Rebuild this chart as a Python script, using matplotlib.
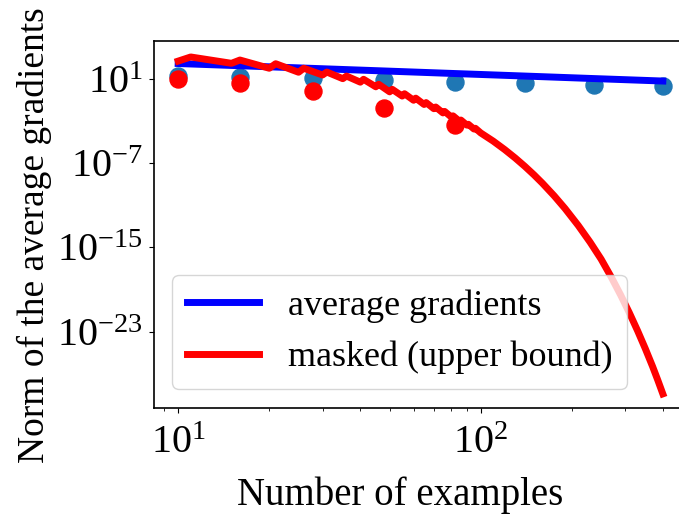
import numpy as np
import matplotlib
matplotlib.use('Agg')
import matplotlib.pyplot as plt

plt.rcParams['font.family'] = ['Liberation Serif', 'DejaVu Serif']
plt.rcParams['mathtext.fontset'] = 'stix'

# x positions of the measured points
n_points = [10, 16, 28, 48, 82, 140, 236, 400]
avg_grad_pts = [19, 14.5, 11.7, 7.9, 5.5, 3.9, 2.7, 2.2]
masked_pts = [9.3, 4.5, 0.78, 0.016, 4.3e-4]

# average gradients curve
avg_grad_line = [295, 181, 101, 57.8, 33, 19, 11, 6.4]

# masked upper bound (log10 values)
bound_n = [10, 11, 15, 16, 20, 21, 25, 26, 30, 31, 35, 36, 40, 41, 45, 46,
           50, 51, 55, 56, 60, 61, 65, 66, 70, 71, 75, 76, 80, 81, 85, 86,
           90, 91, 95, 96, 100, 110, 120, 130, 140, 150, 160, 175, 190, 210,
           230, 250, 270, 290, 310, 330, 350, 370, 385, 400]
bound_log = [2.70, 3.09, 2.49, 2.80, 2.02, 2.45, 1.64, 2.02, 1.38, 1.66,
             1.03, 1.28, 0.70, 0.97, 0.26, 0.50, -0.22, 0.02, -0.62, -0.40,
             -1.02, -0.82, -1.42, -1.24, -1.82, -1.66, -2.22, -2.08, -2.62,
             -2.50, -3.00, -2.90, -3.38, -3.30, -3.75, -3.68, -4.12, -4.9,
             -5.7, -6.5, -7.3, -8.1, -8.9, -10.1, -11.3, -12.9, -14.5, -16.1,
             -17.8, -19.5, -21.2, -22.9, -24.6, -26.3, -27.6, -28.9]

fig = plt.figure(figsize=(6.79, 5.2), dpi=100)
ax = fig.add_axes([0.2268, 0.2154, 0.785, 0.7058])

ax.scatter(n_points, avg_grad_pts, s=150, color='#1f77b4', zorder=2)
ax.scatter(n_points[:5], masked_pts, s=150, color='red', zorder=3)
ax.plot(n_points, avg_grad_line, color='blue', lw=5, label='average gradients', zorder=4)
ax.plot(bound_n, 10.0 ** np.array(bound_log), color='red', lw=5,
        label='masked (upper bound)', zorder=5)

ax.set_xscale('log')
ax.set_yscale('log')
ax.set_xlim(10 ** 0.92, 10 ** 2.682)
ax.set_ylim(10 ** -30.24, 10 ** 4.61)
ax.set_yticks([1e1, 1e-7, 1e-15, 1e-23])
ax.yaxis.set_minor_locator(matplotlib.ticker.NullLocator())

ax.tick_params(axis='x', labelsize=29, pad=8.5)
ax.tick_params(axis='y', labelsize=29, pad=4.5)
for s in ax.spines.values():
    s.set_linewidth(1.2)

ax.set_xlabel('Number of examples', fontsize=28)
ax.set_ylabel('Norm of the average gradients', fontsize=27)
ax.xaxis.set_label_coords(0.4615, -0.187)
ax.yaxis.set_label_coords(-0.191, 0.471)

ax.legend(loc='lower left', bbox_to_anchor=(0.034, 0.052), borderaxespad=0,
          fontsize=26, handlelength=2.0)

fig.savefig('out.png', dpi=100)
